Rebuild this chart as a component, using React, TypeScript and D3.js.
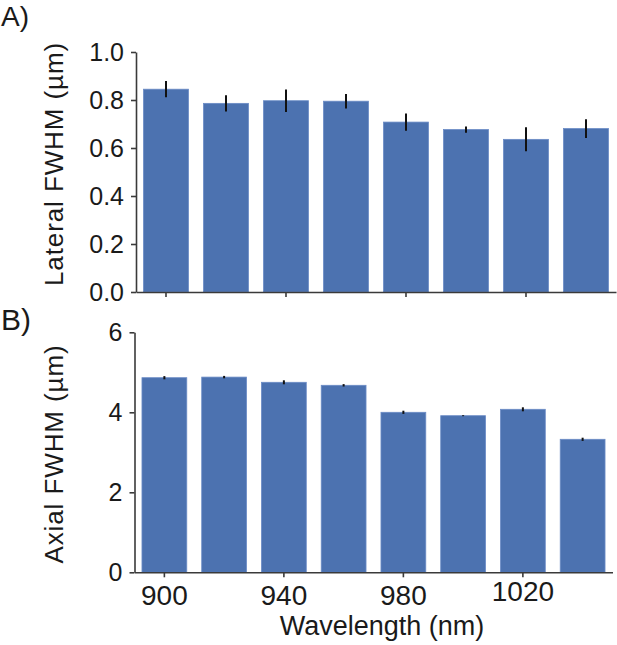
import React, { useEffect, useRef } from 'react';
import * as d3 from 'd3';

// wavelengths of the bars (nm)
const wavelengths = [900, 920, 940, 960, 980, 1000, 1020, 1040];
const tickWavelengths = [900, 940, 980, 1020];

// panel A: lateral FWHM (µm), mean and error
const lateral = [0.845, 0.786, 0.797, 0.795, 0.708, 0.677, 0.636, 0.681];
const lateralErr = [0.034, 0.034, 0.047, 0.03, 0.036, 0.013, 0.05, 0.039];
const lateralTicks = [0, 0.2, 0.4, 0.6, 0.8, 1.0];

// panel B: axial FWHM (µm), mean and error
const axial = [4.865, 4.88, 4.75, 4.675, 4.0, 3.915, 4.075, 3.325];
const axialErr = [0.04, 0.03, 0.05, 0.03, 0.04, 0.012, 0.05, 0.04];
const axialTicks = [0, 2, 4, 6];

const FONT = '"Liberation Sans", Arial, Helvetica, sans-serif';
const BAR = '#4c72b0';
const AXIS = '#3a3a3a';

const App: React.FC = () => {
    const svgRef = useRef<SVGSVGElement>(null);

    useEffect(() => {
        if (!svgRef.current) return;
        const svg = d3.select(svgRef.current);
        svg.selectAll('*').remove();

        function panel(opts: {
            values: number[];
            errs: number[];
            ticks: number[];
            fmt: (d: number) => string;
            yMax: number;
            x0: number; x1: number; yTop: number; yBottom: number;
            label: string; labelY: number;
            letter: string; letterY: number; letterSize: number;
            showX: boolean;
        }) {
            const g = svg.append('g');

            const x = d3.scaleBand<number>()
                .domain(wavelengths)
                .range([opts.x0, opts.x1])
                .paddingInner(0.25)
                .paddingOuter(0.125);

            const y = d3.scaleLinear()
                .domain([0, opts.yMax])
                .range([opts.yBottom, opts.yTop]);

            g.selectAll('rect.bar')
                .data(wavelengths)
                .enter().append('rect')
                .attr('class', 'bar')
                .attr('x', d => x(d)!)
                .attr('width', x.bandwidth())
                .attr('y', (d, i) => y(opts.values[i]))
                .attr('height', (d, i) => opts.yBottom - y(opts.values[i]))
                .attr('fill', BAR)
                .attr('stroke', '#6b8cc6')
                .attr('stroke-width', 0.8);

            g.selectAll('line.err')
                .data(wavelengths)
                .enter().append('line')
                .attr('class', 'err')
                .attr('x1', d => x(d)! + x.bandwidth() / 2)
                .attr('x2', d => x(d)! + x.bandwidth() / 2)
                .attr('y1', (d, i) => y(opts.values[i] - opts.errs[i]))
                .attr('y2', (d, i) => y(opts.values[i] + opts.errs[i]))
                .attr('stroke', '#111')
                .attr('stroke-width', 2);

            const yAxis = d3.axisLeft(y)
                .tickValues(opts.ticks)
                .tickFormat(d => opts.fmt(d as number))
                .tickSize(5)
                .tickSizeOuter(0)
                .tickPadding(7);

            const ya = g.append('g')
                .attr('transform', `translate(${opts.x0},0)`)
                .call(yAxis);
            ya.selectAll('text')
                .attr('font-family', FONT)
                .attr('font-size', 25)
                .attr('fill', '#1a1a1a');

            const xAxis = d3.axisBottom(x)
                .tickValues(tickWavelengths)
                .tickFormat(d => (opts.showX ? String(d) : ''))
                .tickSize(5)
                .tickSizeOuter(0)
                .tickPadding(8);

            const xa = g.append('g')
                .attr('transform', `translate(0,${opts.yBottom})`)
                .call(xAxis);
            xa.selectAll('text')
                .attr('font-family', FONT)
                .attr('font-size', 28)
                .attr('fill', '#1a1a1a')
                .attr('transform', d => (d === 1020 ? 'translate(0,-4)' : null));

            [ya, xa].forEach(a => {
                a.select('.domain').attr('stroke', AXIS).attr('stroke-width', 1.6);
                a.selectAll('.tick line').attr('stroke', AXIS).attr('stroke-width', 1.6);
            });

            g.append('text')
                .attr('transform', `translate(63,${opts.labelY}) rotate(-90)`)
                .attr('text-anchor', 'middle')
                .attr('font-family', FONT)
                .attr('font-size', 26)
                .attr('letter-spacing', 0.9)
                .attr('fill', '#1a1a1a')
                .text(opts.label);

            g.append('text')
                .attr('x', 1)
                .attr('y', opts.letterY)
                .attr('font-family', FONT)
                .attr('font-size', opts.letterSize)
                .attr('fill', '#1a1a1a')
                .text(opts.letter);
        }

        panel({
            values: lateral, errs: lateralErr, ticks: lateralTicks,
            fmt: d3.format('.1f'), yMax: 1.0,
            x0: 136, x1: 616, yTop: 52, yBottom: 292,
            label: 'Lateral FWHM (µm)', labelY: 164,
            letter: 'A)', letterY: 26, letterSize: 28, showX: false,
        });

        panel({
            values: axial, errs: axialErr, ticks: axialTicks,
            fmt: d3.format('d'), yMax: 6,
            x0: 134.5, x1: 612.5, yTop: 332.3, yBottom: 572.3,
            label: 'Axial FWHM (µm)', labelY: 454,
            letter: 'B)', letterY: 329.5, letterSize: 30, showX: true,
        });

        svg.append('text')
            .attr('x', 382)
            .attr('y', 635)
            .attr('text-anchor', 'middle')
            .attr('font-family', FONT)
            .attr('font-size', 27)
            .attr('fill', '#1a1a1a')
            .text('Wavelength (nm)');
    }, []);

    return (
        <svg
            ref={svgRef}
            width={617}
            height={645}
            style={{ position: 'absolute', left: 0, top: 0, background: '#fff' }}
        />
    );
};

export default App;
